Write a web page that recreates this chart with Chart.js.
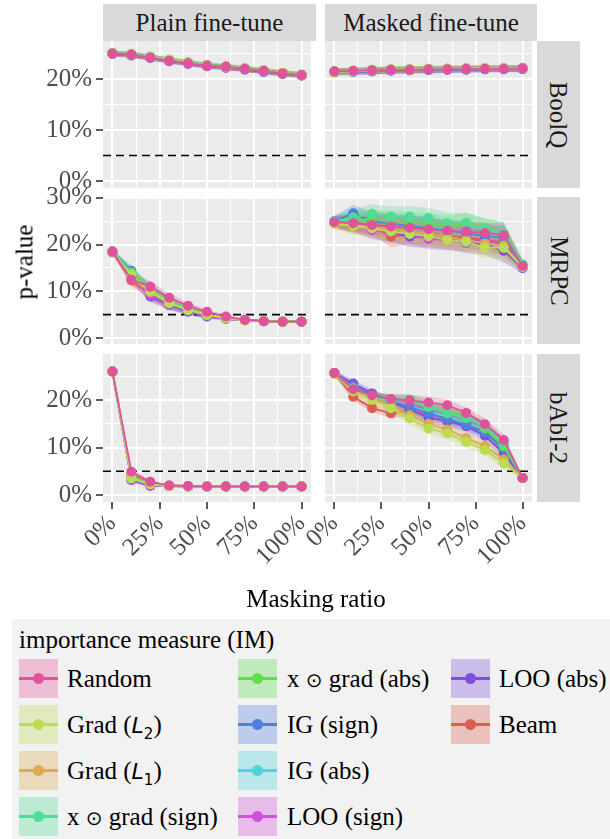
<!DOCTYPE html>
<html><head><meta charset="utf-8">
<script src="https://cdn.jsdelivr.net/npm/chart.js@4"></script>
<style>
body{margin:0;width:610px;height:839px;position:relative;overflow:hidden;background:#fff;font-family:'Liberation Serif','Times New Roman',Tinos,'DejaVu Serif',serif;}
canvas{position:absolute;}
.strip{position:absolute;background:#d9d9d9;color:#1a1a1a;font-size:25px;display:flex;align-items:center;justify-content:center;white-space:nowrap;}
.rot{transform:rotate(90deg);}
.title{position:absolute;color:#000;font-size:25px;white-space:nowrap;line-height:1;}
#legend{position:absolute;left:12px;top:619px;width:598px;height:220px;background:#f2f2f2;}
.ltitle{position:absolute;left:7px;top:8px;font-size:25px;line-height:1;color:#000;white-space:nowrap;}
.key{position:absolute;width:39px;height:39px;}
.kline{position:absolute;left:0;top:18px;width:39px;height:2.5px;}
.kpt{position:absolute;left:14px;top:14px;width:11px;height:11px;border-radius:50%;}
.ltext{position:absolute;font-size:25px;line-height:39px;color:#000;white-space:nowrap;}
.m{font-family:'DejaVu Sans';}
</style>
</head><body>
<div id="legend"></div>
<script>
// ---------- data ----------
const maskingRatio = [0,10,20,30,40,50,60,70,80,90,100];
const measures = ['Random','Grad (L2)','Grad (L1)','x \u2299 grad (sign)','x \u2299 grad (abs)','IG (sign)','IG (abs)','LOO (sign)','LOO (abs)','Beam'];
const measureColors = ['#e0529c','#bcdc52','#dcaa50','#50dc96','#5fdc50','#5080dc','#50d2dc','#d050dc','#7b50dc','#dc5e50'];
const fineTunes = ['Plain fine-tune','Masked fine-tune'];
const datasetsNames = ['BoolQ','MRPC','bAbI-2'];
const xMajorTicks = [0,25,50,75,100];
const xMinorTicks = [12.5,37.5,62.5,87.5];
const xTickLabels = ['0%','25%','50%','75%','100%'];
const yMajorTicks = [0,10,20,30];
const yMinorTicks = [5,15,25];
const yTickLabels = ['0%','10%','20%','30%'];
const threshold = 5;

// BoolQ, plain fine-tune (one row per measure, in legend order)
const boolqPlain = [
 [25.0,24.8,24.2,23.6,23.1,22.6,22.4,22.0,21.6,21.1,20.8],
 [25.1,24.9,24.3,23.8,23.2,22.7,22.4,22.1,21.7,21.2,20.9],
 [25.0,24.8,24.3,23.7,23.2,22.7,22.3,22.0,21.6,21.2,20.8],
 [25.1,24.9,24.4,23.8,23.3,22.8,22.5,22.1,21.7,21.2,20.9],
 [25.0,24.8,24.2,23.7,23.2,22.7,22.4,22.0,21.6,21.1,20.8],
 [25.1,24.8,24.3,23.6,23.1,22.6,22.3,21.9,21.5,21.1,20.7],
 [25.0,24.9,24.3,23.7,23.2,22.7,22.4,22.0,21.6,21.2,20.8],
 [24.9,24.7,24.1,23.6,23.0,22.5,22.2,21.9,21.5,21.0,20.7],
 [24.9,24.6,24.1,23.5,23.0,22.5,22.2,21.8,21.4,21.0,20.7],
 [25.0,24.7,24.2,23.6,23.1,22.6,22.3,21.9,21.5,21.1,20.8]
];
const boolqPlainCI = [0.5,0.5,0.5,0.5,0.5,0.5,0.5,0.5,0.5,0.5,0.5];
// BoolQ, masked fine-tune
const boolqMasked = [
 [21.5,21.6,21.7,21.8,21.8,21.9,21.9,22.0,22.0,22.0,22.1],
 [21.4,21.5,21.7,21.9,21.9,22.0,22.0,22.1,22.1,22.1,22.1],
 [21.4,21.5,21.6,21.8,21.8,21.9,22.0,22.0,22.1,22.1,22.1],
 [21.5,21.6,21.7,21.8,21.9,21.9,22.0,22.0,22.0,22.1,22.1],
 [21.5,21.6,21.8,21.9,21.9,22.0,22.0,22.1,22.1,22.1,22.2],
 [21.3,21.4,21.5,21.7,21.8,21.8,21.9,21.9,21.9,22.0,22.0],
 [21.4,21.5,21.6,21.7,21.8,21.8,21.9,21.9,22.0,22.0,22.0],
 [21.4,21.5,21.6,21.7,21.7,21.8,21.8,21.9,21.9,21.9,22.0],
 [21.3,21.4,21.5,21.6,21.7,21.7,21.8,21.8,21.9,21.9,21.9],
 [21.4,21.5,21.6,21.7,21.8,21.8,21.9,21.9,22.0,22.0,22.0]
];
const boolqMaskedCI = [0.6,0.6,0.6,0.6,0.6,0.6,0.6,0.6,0.6,0.6,0.6];
// MRPC, plain fine-tune
const mrpcPlain = [
 [18.5,12.5,11.0,8.6,6.9,5.6,4.6,3.9,3.6,3.5,3.5],
 [18.5,13.5,10.0,7.5,6.0,5.0,4.3,3.8,3.6,3.5,3.5],
 [18.5,12.8,9.8,7.4,6.0,4.9,4.2,3.8,3.6,3.5,3.5],
 [18.5,13.8,10.3,7.8,6.2,5.0,4.3,3.8,3.6,3.5,3.5],
 [18.5,14.0,10.5,8.0,6.3,5.0,4.3,3.8,3.6,3.5,3.5],
 [18.5,14.4,9.8,7.3,5.8,4.8,4.2,3.8,3.6,3.5,3.5],
 [18.5,13.9,10.2,7.6,6.0,4.9,4.2,3.8,3.6,3.5,3.5],
 [18.5,12.9,9.2,7.1,5.7,4.6,4.1,3.8,3.6,3.5,3.5],
 [18.3,13.2,8.9,7.0,5.6,4.6,4.1,3.8,3.6,3.5,3.5],
 [18.5,12.3,9.5,7.2,5.9,4.8,4.2,3.8,3.6,3.5,3.5]
];
const mrpcPlainCI = [0.4,1.2,1.2,1.0,0.7,0.5,0.3,0.2,0.2,0.2,0.2];
// MRPC, masked fine-tune
const mrpcMasked = [
 [24.8,24.6,24.2,23.9,23.6,23.3,23.0,22.8,22.5,22.0,15.4],
 [24.5,24.0,23.5,22.8,22.3,21.8,21.0,20.6,19.4,19.3,15.2],
 [24.6,24.2,23.8,23.2,22.8,22.2,21.6,21.0,20.2,19.8,15.3],
 [25.0,25.8,26.6,26.0,26.0,25.7,24.6,24.6,23.3,22.3,15.8],
 [24.8,25.2,25.5,25.0,24.8,24.5,24.0,24.6,23.5,22.3,15.6],
 [25.0,26.7,25.0,24.5,24.0,23.5,23.0,22.5,21.8,21.5,15.0],
 [24.9,25.5,25.0,24.5,24.0,23.7,23.2,22.8,22.2,21.6,15.2],
 [25.0,24.6,23.1,22.8,22.3,21.2,21.0,20.8,21.0,20.0,15.3],
 [24.8,24.3,23.5,22.8,21.7,21.6,21.2,20.4,20.0,18.7,15.0],
 [25.0,24.7,24.0,21.7,22.2,22.0,21.8,21.5,21.0,20.5,15.4]
];
const mrpcMaskedCI = [1.2,1.8,2.0,2.2,2.2,2.2,2.2,2.2,2.2,2.5,1.2];
// bAbI-2, plain fine-tune
const babiPlain = [
 [26.0,4.9,2.8,2.0,1.9,1.8,1.8,1.8,1.8,1.8,1.8],
 [26.0,3.5,2.2,1.9,1.8,1.8,1.8,1.8,1.8,1.8,1.8],
 [26.0,3.6,2.3,1.9,1.8,1.8,1.8,1.8,1.8,1.8,1.8],
 [26.0,3.8,2.4,1.9,1.8,1.8,1.8,1.8,1.8,1.8,1.8],
 [26.0,4.0,2.4,1.9,1.8,1.8,1.8,1.8,1.8,1.8,1.8],
 [26.0,3.3,2.1,1.9,1.8,1.8,1.8,1.8,1.8,1.8,1.8],
 [26.0,3.4,2.2,1.9,1.8,1.8,1.8,1.8,1.8,1.8,1.8],
 [26.0,3.1,2.0,1.9,1.8,1.8,1.8,1.8,1.8,1.8,1.8],
 [26.0,3.2,1.9,1.9,1.8,1.8,1.8,1.8,1.8,1.8,1.8],
 [26.0,4.3,2.6,2.0,1.9,1.8,1.8,1.8,1.8,1.8,1.8]
];
const babiPlainCI = [0.3,0.5,0.3,0.1,0.1,0.1,0.1,0.1,0.1,0.1,0.1];
// bAbI-2, masked fine-tune
const babiMasked = [
 [25.7,22.3,21.0,20.2,19.9,19.5,18.9,17.3,14.9,11.6,3.6],
 [25.5,21.8,20.0,18.3,16.1,14.0,13.0,11.2,9.5,6.7,3.6],
 [25.5,22.0,20.3,18.8,16.8,15.0,13.8,12.0,10.3,7.5,3.6],
 [25.6,22.5,20.6,19.8,20.0,18.5,17.2,16.2,14.5,10.8,3.6],
 [25.6,22.4,20.8,20.2,20.0,18.7,17.6,16.5,14.0,10.2,3.6],
 [25.6,22.8,21.0,19.8,18.5,17.2,16.0,14.8,13.2,9.8,3.6],
 [25.6,22.6,20.8,19.9,18.8,17.6,16.5,15.2,13.8,10.5,3.6],
 [25.7,22.9,20.9,20.0,19.0,18.0,17.2,16.0,14.2,10.8,3.6],
 [25.7,23.5,21.4,19.6,18.0,16.3,15.6,14.5,12.5,8.8,3.6],
 [25.7,20.7,18.3,17.2,17.8,17.0,16.2,15.3,13.6,9.5,3.6]
];
const babiMaskedCI = [0.6,0.8,0.8,1.0,1.2,1.2,1.2,1.2,1.2,1.2,0.4];
const rowYRange = [[-1.37,27.45],[-1.29,30.2],[-1.47,29.7]];

// ---------- layout ----------
const colX = [[103,316],[325,537]];
const rowY = [[41,188],[197,344],[354,502]];
const FONT = "'Liberation Serif','Times New Roman',Tinos,'DejaVu Serif',serif";

function rgba(hex,a){const n=parseInt(hex.slice(1),16);return `rgba(${n>>16&255},${n>>8&255},${n&255},${a})`;}

const bgPlugin = {id:'panelbg', beforeDraw(chart){const {ctx,chartArea:a}=chart;ctx.save();ctx.fillStyle='#ebebeb';ctx.fillRect(a.left,a.top,a.right-a.left,a.bottom-a.top);ctx.restore();}};

function addPanel(row,col,values,ci){
  const [L,R]=colX[col],[T,B]=rowY[row];
  const bottom = row===2, left = col===0;
  const padT=14, padB= bottom?0:14, xAxisH = bottom?95:0;
  const cLeft = left?0:L-60, yAxisW = L-cLeft;
  const w = R-cLeft, h=(B-T)+padT+padB+xAxisH;
  const cv=document.createElement('canvas');
  cv.width=w;cv.height=h;cv.style.width=w+'px';cv.style.height=h+'px';
  cv.style.left=cLeft+'px';cv.style.top=(T-padT)+'px';
  document.body.appendChild(cv);
  const ds=[];
  measures.forEach((m,i)=>{
    ds.push({label:m,data:maskingRatio.map((x,j)=>({x,y:values[i][j]})),borderColor:measureColors[i],backgroundColor:measureColors[i],
      borderWidth:1.8,pointRadius:5,pointBorderWidth:0,pointBackgroundColor:measureColors[i],fill:false,order:1});
  });
  ds.push({label:'threshold',data:[{x:-5,y:threshold},{x:105,y:threshold}],borderColor:'#000',borderWidth:1.6,borderDash:[8,5],pointRadius:0,fill:false,order:2});
  measures.forEach((m,i)=>{
    ds.push({label:m+' upper',data:maskingRatio.map((x,j)=>({x,y:values[i][j]+ci[j]})),borderWidth:0,pointRadius:0,backgroundColor:rgba(measureColors[i],0.28),fill:'+1',order:3});
    ds.push({label:m+' lower',data:maskingRatio.map((x,j)=>({x,y:values[i][j]-ci[j]})),borderWidth:0,pointRadius:0,fill:false,order:3});
  });
  const [ymin,ymax]=rowYRange[row];
  new Chart(cv,{type:'line',data:{datasets:ds},plugins:[bgPlugin],
    options:{responsive:false,animation:false,events:[],devicePixelRatio:1,
      layout:{padding:{top:padT,bottom:padB,left:0,right:0}},
      plugins:{legend:{display:false},tooltip:{enabled:false}},
      scales:{
        x:{type:'linear',min:-5,max:105,
          afterBuildTicks:s=>{s.ticks=[...xMajorTicks,...xMinorTicks].sort((a,b)=>a-b).map(v=>({value:v}));},
          afterFit:s=>{s.height=xAxisH;s.paddingLeft=0;s.paddingRight=0;s.paddingTop=0;s.paddingBottom=0;},
          border:{display:false},
          grid:{color:'#ffffff',lineWidth:c=>(c.tick&&xMajorTicks.includes(c.tick.value))?2:1,drawTicks:bottom,tickLength:7,
            tickColor:c=>(c.tick&&xMajorTicks.includes(c.tick.value))?'#333333':'rgba(0,0,0,0)',tickWidth:1.6},
          ticks:{display:bottom,autoSkip:false,minRotation:45,maxRotation:45,padding:0,color:'#4d4d4d',font:{family:FONT,size:25},
            callback:v=>{const k=xMajorTicks.indexOf(v);return k>=0?xTickLabels[k]:'';}}
        },
        y:{type:'linear',min:ymin,max:ymax,
          afterBuildTicks:s=>{s.ticks=[...yMajorTicks,...yMinorTicks].filter(v=>v>=ymin&&v<=ymax).sort((a,b)=>a-b).map(v=>({value:v}));},
          afterFit:s=>{s.width=yAxisW;s.paddingTop=0;s.paddingBottom=0;s.paddingLeft=0;s.paddingRight=0;},
          border:{display:false},
          grid:{color:'#ffffff',lineWidth:c=>(c.tick&&yMajorTicks.includes(c.tick.value))?2:1,drawTicks:left,tickLength:7,
            tickColor:c=>(c.tick&&yMajorTicks.includes(c.tick.value))?'#333333':'rgba(0,0,0,0)',tickWidth:1.6},
          ticks:{display:left,autoSkip:false,padding:4,color:'#4d4d4d',font:{family:FONT,size:25},
            callback:v=>{const k=yMajorTicks.indexOf(v);return k>=0?yTickLabels[k]:'';}}
        }
      }
    }});
}

const panelValues=[[boolqPlain,boolqMasked],[mrpcPlain,mrpcMasked],[babiPlain,babiMasked]];
const panelCI=[[boolqPlainCI,boolqMaskedCI],[mrpcPlainCI,mrpcMaskedCI],[babiPlainCI,babiMaskedCI]];
for(let r=0;r<3;r++)for(let c=0;c<2;c++)addPanel(r,c,panelValues[r][c],panelCI[r][c]);

// strips
function div(cls,style,html){const d=document.createElement('div');d.className=cls;d.style.cssText=style;d.innerHTML=html;document.body.appendChild(d);return d;}
fineTunes.forEach((t,c)=>div('strip',`left:${colX[c][0]}px;top:4px;width:${colX[c][1]-colX[c][0]}px;height:37px;`,t));
datasetsNames.forEach((t,r)=>div('strip',`left:537px;top:${rowY[r][0]}px;width:43px;height:${rowY[r][1]-rowY[r][0]}px;`,`<span class="rot">${t}</span>`));
// axis titles
div('title','left:24px;top:262px;transform:translate(-50%,-50%) rotate(-90deg);','p-value');
div('title','left:316px;top:598px;transform:translate(-50%,-50%);','Masking ratio');

// legend
const lg=document.getElementById('legend');
lg.innerHTML='<div class="ltitle">importance measure (IM)</div>';
const legendCols=[7,226,439], legendTextX=[55,275,487], legendRows=[40,86,132,178];
function labelHtml(m){
  return m.replace(/\((L)(\d)\)/,'(<span class="m" style="font-style:italic;font-size:22px">$1</span><sub class="m" style="font-size:15px">$2</sub>)')
          .replace('\u2299','<span class="m" style="font-size:20px">\u2299</span>');
}
measures.forEach((m,i)=>{
  const col=i<4?0:(i<8?1:2), row=i<4?i:(i<8?i-4:i-8);
  const k=document.createElement('div');k.className='key';
  k.style.cssText=`left:${legendCols[col]}px;top:${legendRows[row]}px;background:${rgba(measureColors[i],0.33)};`;
  k.innerHTML=`<div class="kline" style="background:${measureColors[i]}"></div><div class="kpt" style="background:${measureColors[i]}"></div>`;
  lg.appendChild(k);
  const t=document.createElement('div');t.className='ltext';
  t.style.cssText=`left:${legendTextX[col]}px;top:${legendRows[row]}px;`;
  t.innerHTML=labelHtml(m);
  lg.appendChild(t);
});
</script>
</body></html>
